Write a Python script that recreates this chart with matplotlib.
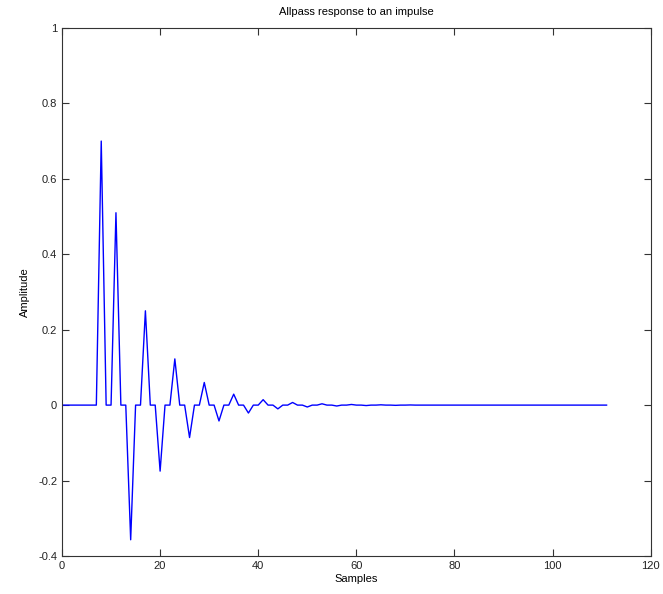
import numpy as np
import matplotlib
matplotlib.use('Agg')
from matplotlib import pyplot as plt
from matplotlib.ticker import FormatStrFormatter, MultipleLocator

# samples 0..111, impulse response is zero except at these samples
num_samples = 112
peak_samples = [8, 11, 14, 17, 20, 23, 26, 29, 32, 35, 38, 41, 44, 47,
                50, 53, 56, 59, 62, 65, 68, 71]
peak_values = [0.70, 0.51, -0.357, 0.25, -0.175, 0.1225, -0.086, 0.060,
               -0.042, 0.029, -0.021, 0.0144, -0.010, 0.007, -0.005, 0.0035,
               -0.0024, 0.0017, -0.0012, 0.0008, -0.0006, 0.0004]

samples = np.arange(num_samples)
amplitude = np.zeros(num_samples)
amplitude[peak_samples] = peak_values

plt.rcParams['font.family'] = ['Liberation Sans', 'DejaVu Sans']
plt.rcParams['font.size'] = 8

fig = plt.figure(figsize=(6.63, 5.94), dpi=100)
ax = fig.add_axes([0.0935, 0.064, 0.888, 0.889])
ax.plot(samples, amplitude, color='#0000ff', linewidth=1)

ax.set_xlim(0, 120)
ax.set_ylim(-0.4, 1)
ax.xaxis.set_major_locator(MultipleLocator(20))
ax.yaxis.set_major_locator(MultipleLocator(0.2))
ax.yaxis.set_major_formatter(FormatStrFormatter('%g'))
ax.tick_params(direction='in', top=True, right=True, length=5,
               labelsize=8, color='#333333', labelcolor='#222222')
for s in ax.spines.values():
    s.set_color('#333333')

ax.set_title('Allpass response to an impulse', fontsize=8, pad=9)
ax.set_xlabel('Samples', fontsize=8, labelpad=2)
ax.set_ylabel('Amplitude', fontsize=8, labelpad=6)

fig.savefig('out.png', dpi=100)
